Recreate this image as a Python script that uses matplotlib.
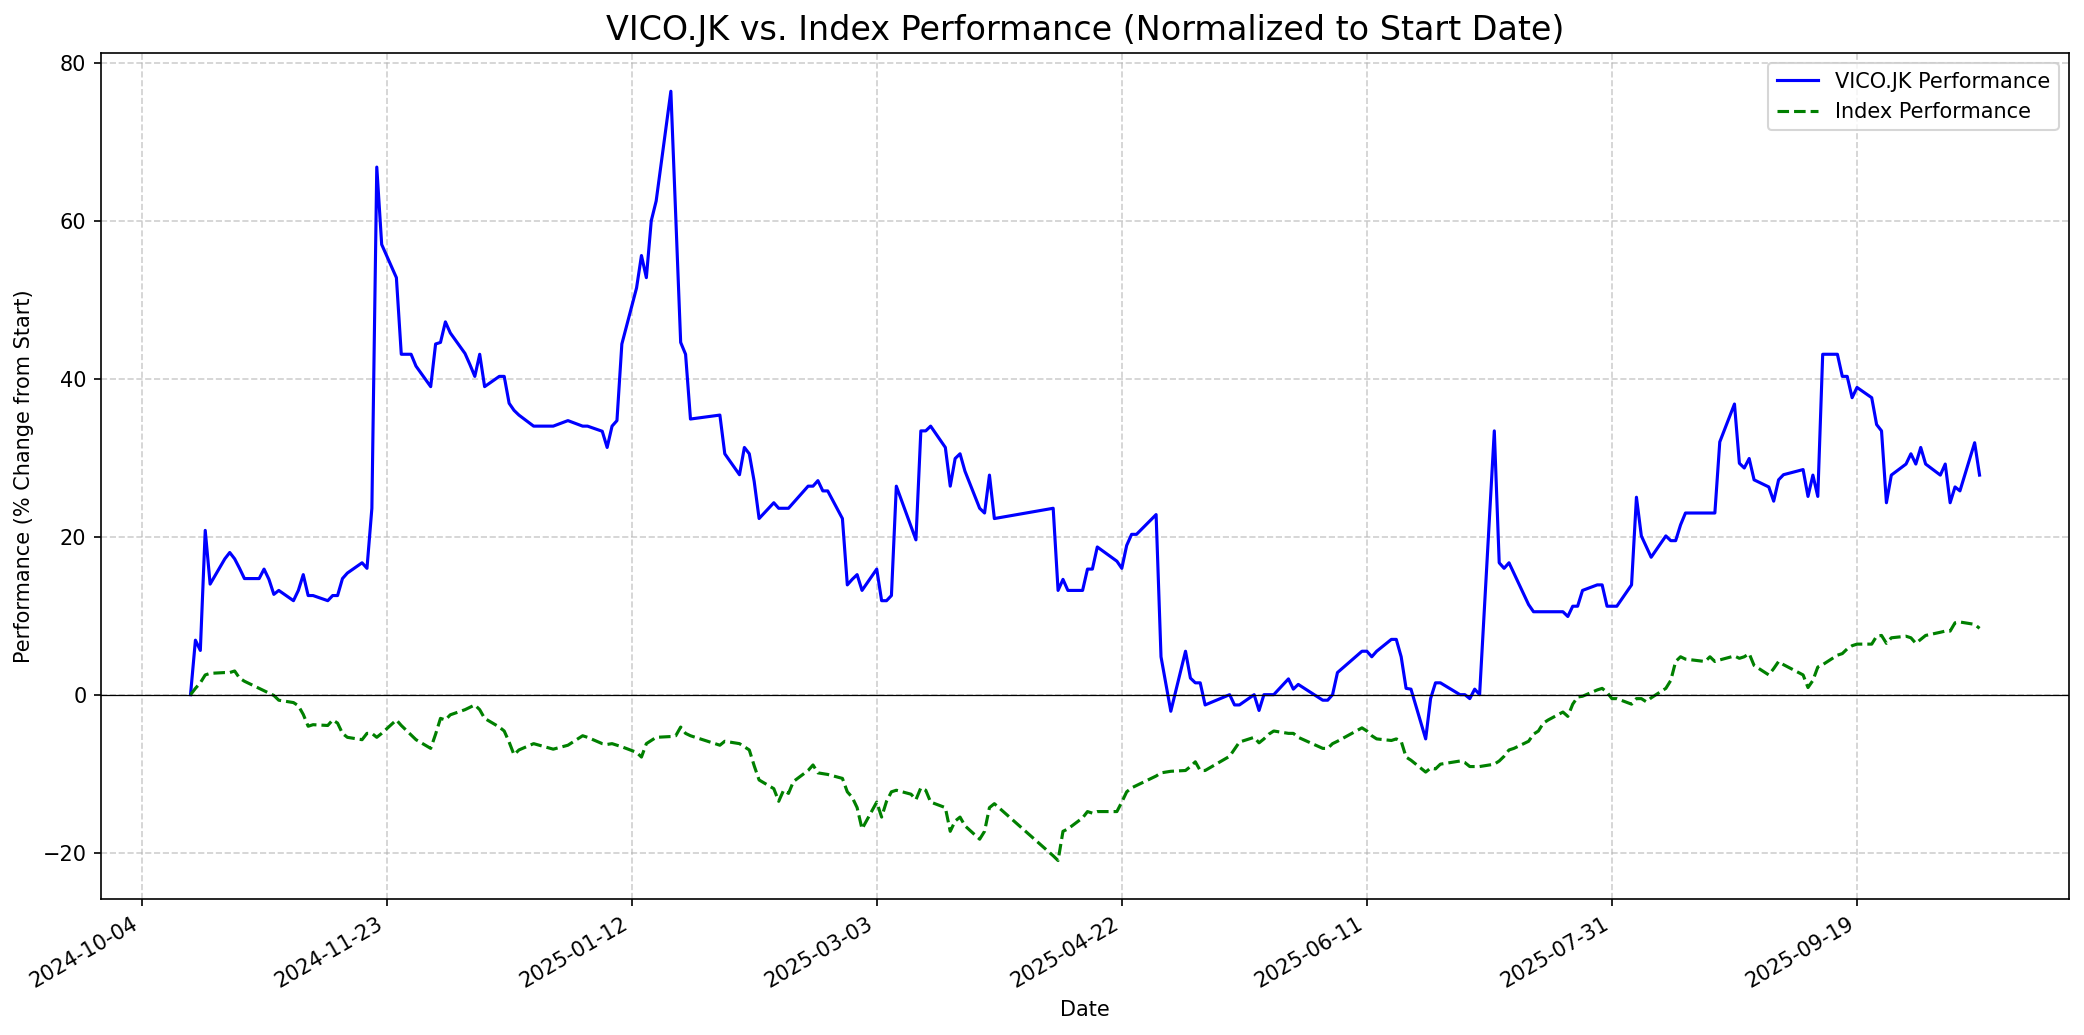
import matplotlib
matplotlib.use("Agg")
import matplotlib.pyplot as plt
import matplotlib.dates as mdates
import pandas as pd

# VICO.JK % change from start
vico_dates = [
    "2024-10-14", "2024-10-15", "2024-10-16", "2024-10-17", "2024-10-18", "2024-10-21", "2024-10-22",
    "2024-10-23", "2024-10-24", "2024-10-25", "2024-10-28", "2024-10-29", "2024-10-30", "2024-10-31",
    "2024-11-01", "2024-11-04", "2024-11-05", "2024-11-06", "2024-11-07", "2024-11-08", "2024-11-11",
    "2024-11-12", "2024-11-13", "2024-11-14", "2024-11-15", "2024-11-18", "2024-11-19", "2024-11-20",
    "2024-11-21", "2024-11-22", "2024-11-25", "2024-11-26", "2024-11-28", "2024-11-29", "2024-12-02",
    "2024-12-03", "2024-12-04", "2024-12-05", "2024-12-06", "2024-12-09", "2024-12-10", "2024-12-11",
    "2024-12-12", "2024-12-13", "2024-12-16", "2024-12-17", "2024-12-18", "2024-12-19", "2024-12-20",
    "2024-12-23", "2024-12-27", "2024-12-30", "2025-01-02", "2025-01-03", "2025-01-06", "2025-01-07",
    "2025-01-08", "2025-01-09", "2025-01-10", "2025-01-13", "2025-01-14", "2025-01-15", "2025-01-16",
    "2025-01-17", "2025-01-20", "2025-01-22", "2025-01-23", "2025-01-24", "2025-01-30", "2025-01-31",
    "2025-02-03", "2025-02-04", "2025-02-05", "2025-02-06", "2025-02-07", "2025-02-10", "2025-02-11",
    "2025-02-12", "2025-02-13", "2025-02-17", "2025-02-18", "2025-02-19", "2025-02-20", "2025-02-21",
    "2025-02-24", "2025-02-25", "2025-02-26", "2025-02-27", "2025-02-28", "2025-03-03", "2025-03-04",
    "2025-03-05", "2025-03-06", "2025-03-07", "2025-03-11", "2025-03-12", "2025-03-13", "2025-03-14",
    "2025-03-17", "2025-03-18", "2025-03-19", "2025-03-20", "2025-03-21", "2025-03-24", "2025-03-25",
    "2025-03-26", "2025-03-27", "2025-04-08", "2025-04-09", "2025-04-10", "2025-04-11", "2025-04-14",
    "2025-04-15", "2025-04-16", "2025-04-17", "2025-04-21", "2025-04-22", "2025-04-23", "2025-04-24",
    "2025-04-25", "2025-04-29", "2025-04-30", "2025-05-02", "2025-05-05", "2025-05-06", "2025-05-07",
    "2025-05-08", "2025-05-09", "2025-05-14", "2025-05-15", "2025-05-16", "2025-05-19", "2025-05-20",
    "2025-05-21", "2025-05-23", "2025-05-26", "2025-05-27", "2025-05-28", "2025-06-02", "2025-06-03",
    "2025-06-04", "2025-06-05", "2025-06-10", "2025-06-11", "2025-06-12", "2025-06-13", "2025-06-16",
    "2025-06-17", "2025-06-18", "2025-06-19", "2025-06-20", "2025-06-23", "2025-06-24", "2025-06-25",
    "2025-06-26", "2025-06-30", "2025-07-01", "2025-07-02", "2025-07-03", "2025-07-04", "2025-07-07",
    "2025-07-08", "2025-07-09", "2025-07-10", "2025-07-14", "2025-07-15", "2025-07-21", "2025-07-22",
    "2025-07-23", "2025-07-24", "2025-07-25", "2025-07-28", "2025-07-29", "2025-07-30", "2025-08-01",
    "2025-08-04", "2025-08-05", "2025-08-06", "2025-08-08", "2025-08-11", "2025-08-12", "2025-08-13",
    "2025-08-14", "2025-08-15", "2025-08-21", "2025-08-22", "2025-08-25", "2025-08-26", "2025-08-27",
    "2025-08-28", "2025-08-29", "2025-09-01", "2025-09-02", "2025-09-03", "2025-09-04", "2025-09-08",
    "2025-09-09", "2025-09-10", "2025-09-11", "2025-09-12", "2025-09-15", "2025-09-16", "2025-09-17",
    "2025-09-18", "2025-09-19", "2025-09-22", "2025-09-23", "2025-09-24", "2025-09-25", "2025-09-26",
    "2025-09-29", "2025-09-30", "2025-10-01", "2025-10-02", "2025-10-03", "2025-10-06", "2025-10-07",
    "2025-10-08", "2025-10-09", "2025-10-10", "2025-10-13", "2025-10-14",
]
vico_perf = [
    0.0, 6.9, 5.6, 20.8, 14.0, 17.2, 18.0,
    17.2, 16.0, 14.7, 14.7, 15.9, 14.6, 12.7,
    13.2, 11.9, 13.2, 15.2, 12.55, 12.55, 11.9,
    12.55, 12.55, 14.7, 15.4, 16.7, 16.0, 23.6,
    66.8, 57.0, 52.8, 43.1, 43.1, 41.6, 39.0,
    44.4, 44.6, 47.2, 45.8, 43.2, 41.8, 40.3,
    43.1, 39.0, 40.3, 40.3, 36.9, 36.0, 35.4,
    34.0, 34.0, 34.7, 34.0, 34.0, 33.35, 31.3,
    34.0, 34.7, 44.4, 51.5, 55.6, 52.8, 60.0,
    62.5, 76.4, 44.6, 43.1, 34.9, 35.4, 30.5,
    27.85, 31.3, 30.5, 27.0, 22.3, 24.3, 23.6,
    23.6, 23.6, 26.4, 26.4, 27.1, 25.8, 25.8,
    22.3, 13.9, 14.6, 15.2, 13.2, 15.9, 11.9,
    11.9, 12.55, 26.4, 19.6, 33.4, 33.4, 34.0,
    31.3, 26.4, 29.9, 30.5, 28.3, 23.6, 23.0,
    27.8, 22.3, 23.6, 13.2, 14.6, 13.2, 13.2,
    15.9, 15.9, 18.7, 16.9, 16.0, 18.9, 20.3,
    20.3, 22.8, 4.8, -2.1, 5.5, 2.1, 1.5,
    1.5, -1.3, 0.0, -1.3, -1.3, 0.0, -2.0,
    0.0, 0.0, 2.0, 0.7, 1.3, -0.7, -0.7,
    0.0, 2.8, 5.5, 5.5, 4.8, 5.5, 7.0,
    7.0, 4.8, 0.8, 0.7, -5.6, -0.5, 1.5,
    1.5, 0.0, 0.0, -0.5, 0.7, 0.0, 33.4,
    16.7, 16.0, 16.7, 11.4, 10.5, 10.5, 9.9,
    11.2, 11.2, 13.2, 13.9, 13.9, 11.2, 11.2,
    13.9, 25.0, 20.1, 17.4, 20.1, 19.5, 19.5,
    21.5, 23.0, 23.0, 32.0, 36.8, 29.3, 28.7,
    29.9, 27.2, 26.3, 24.5, 27.2, 27.85, 28.5,
    25.1, 27.8, 25.1, 43.1, 43.1, 40.3, 40.3,
    37.6, 38.9, 37.6, 34.2, 33.4, 24.3, 27.8,
    29.2, 30.5, 29.2, 31.3, 29.2, 27.8, 29.2,
    24.3, 26.3, 25.8, 31.9, 27.8,
]

# Index % change from start
index_dates = [
    "2024-10-14", "2024-10-15", "2024-10-16", "2024-10-17", "2024-10-18", "2024-10-21", "2024-10-22",
    "2024-10-23", "2024-10-24", "2024-10-25", "2024-10-28", "2024-10-29", "2024-10-30", "2024-10-31",
    "2024-11-01", "2024-11-04", "2024-11-05", "2024-11-06", "2024-11-07", "2024-11-08", "2024-11-11",
    "2024-11-12", "2024-11-13", "2024-11-14", "2024-11-15", "2024-11-18", "2024-11-19", "2024-11-20",
    "2024-11-21", "2024-11-22", "2024-11-25", "2024-11-26", "2024-11-28", "2024-11-29", "2024-12-02",
    "2024-12-03", "2024-12-04", "2024-12-05", "2024-12-06", "2024-12-09", "2024-12-10", "2024-12-11",
    "2024-12-12", "2024-12-13", "2024-12-16", "2024-12-17", "2024-12-18", "2024-12-19", "2024-12-20",
    "2024-12-23", "2024-12-27", "2024-12-30", "2025-01-02", "2025-01-03", "2025-01-06", "2025-01-07",
    "2025-01-08", "2025-01-09", "2025-01-10", "2025-01-13", "2025-01-14", "2025-01-15", "2025-01-16",
    "2025-01-17", "2025-01-20", "2025-01-21", "2025-01-22", "2025-01-23", "2025-01-24", "2025-01-30",
    "2025-01-31", "2025-02-03", "2025-02-04", "2025-02-05", "2025-02-06", "2025-02-07", "2025-02-10",
    "2025-02-11", "2025-02-12", "2025-02-13", "2025-02-14", "2025-02-17", "2025-02-18", "2025-02-19",
    "2025-02-20", "2025-02-21", "2025-02-24", "2025-02-25", "2025-02-26", "2025-02-27", "2025-02-28",
    "2025-03-03", "2025-03-04", "2025-03-05", "2025-03-06", "2025-03-07", "2025-03-10", "2025-03-11",
    "2025-03-12", "2025-03-13", "2025-03-14", "2025-03-17", "2025-03-18", "2025-03-19", "2025-03-20",
    "2025-03-21", "2025-03-24", "2025-03-25", "2025-03-26", "2025-03-27", "2025-04-08", "2025-04-09",
    "2025-04-10", "2025-04-11", "2025-04-14", "2025-04-15", "2025-04-16", "2025-04-17", "2025-04-21",
    "2025-04-22", "2025-04-23", "2025-04-24", "2025-04-25", "2025-04-28", "2025-04-29", "2025-04-30",
    "2025-05-02", "2025-05-05", "2025-05-06", "2025-05-07", "2025-05-08", "2025-05-09", "2025-05-14",
    "2025-05-15", "2025-05-16", "2025-05-19", "2025-05-20", "2025-05-21", "2025-05-22", "2025-05-23",
    "2025-05-26", "2025-05-27", "2025-05-28", "2025-06-02", "2025-06-03", "2025-06-04", "2025-06-05",
    "2025-06-10", "2025-06-11", "2025-06-12", "2025-06-13", "2025-06-16", "2025-06-17", "2025-06-18",
    "2025-06-19", "2025-06-20", "2025-06-23", "2025-06-24", "2025-06-25", "2025-06-26", "2025-06-30",
    "2025-07-01", "2025-07-02", "2025-07-03", "2025-07-04", "2025-07-07", "2025-07-08", "2025-07-09",
    "2025-07-10", "2025-07-11", "2025-07-14", "2025-07-15", "2025-07-16", "2025-07-17", "2025-07-18",
    "2025-07-21", "2025-07-22", "2025-07-23", "2025-07-24", "2025-07-25", "2025-07-28", "2025-07-29",
    "2025-07-30", "2025-07-31", "2025-08-01", "2025-08-04", "2025-08-05", "2025-08-06", "2025-08-07",
    "2025-08-08", "2025-08-11", "2025-08-12", "2025-08-13", "2025-08-14", "2025-08-15", "2025-08-19",
    "2025-08-20", "2025-08-21", "2025-08-22", "2025-08-25", "2025-08-26", "2025-08-27", "2025-08-28",
    "2025-08-29", "2025-09-01", "2025-09-02", "2025-09-03", "2025-09-04", "2025-09-08", "2025-09-09",
    "2025-09-10", "2025-09-11", "2025-09-12", "2025-09-15", "2025-09-16", "2025-09-17", "2025-09-18",
    "2025-09-19", "2025-09-22", "2025-09-23", "2025-09-24", "2025-09-25", "2025-09-26", "2025-09-29",
    "2025-09-30", "2025-10-01", "2025-10-02", "2025-10-03", "2025-10-06", "2025-10-07", "2025-10-08",
    "2025-10-09", "2025-10-10", "2025-10-13", "2025-10-14",
]
index_perf = [
    0.0, 0.8, 1.5, 2.5, 2.7, 2.8, 2.8,
    3.0, 2.1, 1.7, 0.8, 0.5, 0.2, -0.1,
    -0.7, -1.0, -1.4, -2.5, -4.0, -3.8, -3.9,
    -3.2, -3.6, -4.9, -5.4, -5.7, -4.9, -4.9,
    -5.4, -4.9, -3.2, -3.9, -5.1, -5.7, -6.8,
    -5.0, -3.0, -3.2, -2.55, -1.9, -1.6, -1.3,
    -1.9, -3.0, -4.1, -4.6, -6.0, -7.6, -7.0,
    -6.2, -6.9, -6.4, -5.2, -5.4, -6.2, -6.3,
    -6.2, -6.4, -6.6, -7.3, -7.9, -6.2, -5.8,
    -5.4, -5.3, -5.2, -4.1, -4.9, -5.2, -6.4,
    -5.9, -6.2, -6.6, -7.0, -9.0, -10.8, -11.9,
    -13.5, -12.1, -12.5, -11.0, -9.6, -8.9, -9.9,
    -10.0, -10.1, -10.6, -12.3, -13.0, -14.3, -17.0,
    -13.6, -15.5, -13.5, -12.3, -12.1, -12.6, -13.3,
    -11.8, -12.1, -13.6, -14.3, -17.3, -16.0, -15.5,
    -16.6, -18.3, -17.3, -14.3, -13.8, -20.4, -21.0,
    -17.3, -17.0, -15.6, -14.8, -15.0, -14.8, -14.8,
    -13.6, -12.3, -11.8, -11.5, -10.6, -10.3, -9.9,
    -9.7, -9.6, -9.1, -8.5, -9.6, -9.6, -7.8,
    -6.9, -6.0, -5.4, -6.1, -5.6, -5.0, -4.6,
    -4.9, -4.9, -5.4, -6.8, -6.8, -6.2, -5.9,
    -4.2, -4.6, -5.2, -5.6, -5.8, -5.6, -5.9,
    -7.9, -8.3, -9.8, -9.3, -9.4, -8.8, -8.4,
    -8.6, -9.1, -9.1, -9.1, -8.8, -8.4, -7.8,
    -7.0, -6.8, -5.9, -5.0, -4.6, -3.6, -3.2,
    -2.2, -2.75, -1.2, -0.3, -0.2, 0.6, 0.8,
    0.3, -0.5, -0.5, -1.2, -0.5, -0.5, -0.9,
    -0.4, 0.8, 1.8, 4.2, 4.8, 4.5, 4.2,
    4.8, 4.2, 4.4, 4.9, 4.6, 4.8, 5.2,
    3.7, 2.5, 3.3, 4.2, 3.8, 2.5, 0.9,
    1.8, 3.5, 3.8, 5.0, 5.2, 5.8, 6.2,
    6.4, 6.4, 7.4, 7.5, 6.5, 7.2, 7.4,
    7.2, 6.5, 7.0, 7.5, 7.9, 8.05, 8.05,
    9.1, 9.2, 8.9, 8.4,
]

tick_dates = ["2024-10-04", "2024-11-23", "2025-01-12", "2025-03-03",
              "2025-04-22", "2025-06-11", "2025-07-31", "2025-09-19"]

fig, ax = plt.subplots(figsize=(2084 / 150, 1035 / 150), dpi=150)

ax.plot(pd.to_datetime(vico_dates), vico_perf, color="blue", linewidth=1.5,
        label="VICO.JK Performance")
ax.plot(pd.to_datetime(index_dates), index_perf, color="green", linestyle="--",
        linewidth=1.5, label="Index Performance")
ax.axhline(0, color="black", linewidth=0.6)

ax.set_title("VICO.JK vs. Index Performance (Normalized to Start Date)", fontsize=16)
ax.set_xlabel("Date")
ax.set_ylabel("Performance (% Change from Start)")
ax.legend(loc="upper right")
ax.grid(True, linestyle="--", alpha=0.6)

ax.set_xticks(pd.to_datetime(tick_dates))
ax.xaxis.set_major_formatter(mdates.DateFormatter("%Y-%m-%d"))
fig.autofmt_xdate(bottom=0.1314)
fig.subplots_adjust(left=0.0485, right=0.9928, top=0.949)

fig.savefig("out.png", dpi=150)
